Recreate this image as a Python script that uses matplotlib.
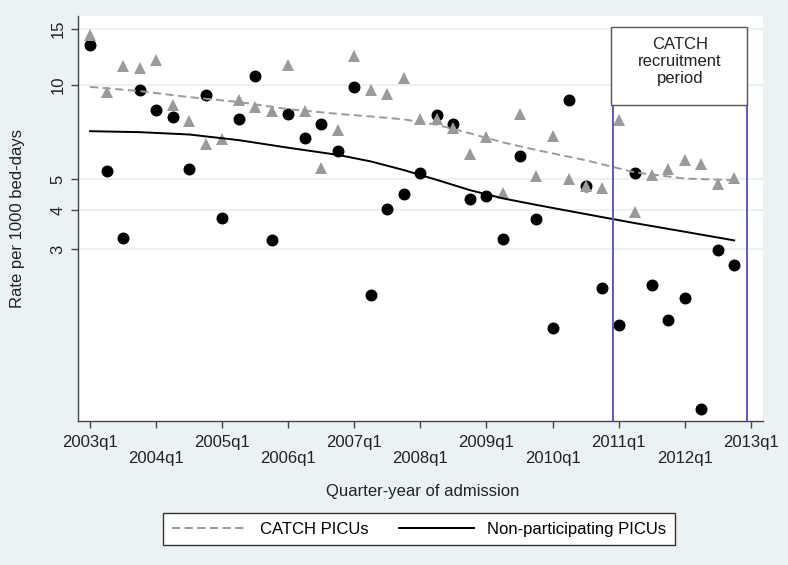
import numpy as np
import matplotlib.pyplot as plt
from matplotlib.patches import Rectangle
from matplotlib.lines import Line2D
from matplotlib.ticker import NullLocator, NullFormatter

plt.rcParams['font.family'] = ['Liberation Sans', 'DejaVu Sans']

# quarter index: 0 = 2003q1 ... 39 = 2012q4
quarters = np.arange(40)

non_participating = [13.35, 5.32, 3.25, 9.63, 8.31, 7.86, 5.39, 9.26, 3.77, 7.77,
                     10.61, 3.20, 8.04, 6.77, 7.47, 6.13, 9.81, 2.14, 4.02, 4.50,
                     5.22, 7.98, 7.50, 4.34, 4.43, 3.24, 5.92, 3.74, 1.69, 8.90,
                     4.78, 2.26, 1.73, 5.22, 2.31, 1.79, 2.10, 0.93, 2.99, 2.68]

catch_picus = [14.33, 9.46, 11.44, 11.25, 11.93, 8.62, 7.64, 6.47, 6.72, 8.92,
               8.48, 8.22, 11.53, 8.23, 5.42, 7.18, 12.31, 9.60, 9.35, 10.50,
               7.75, 7.75, 7.30, 6.03, 6.82, 4.53, 8.04, 5.11, 6.86, 5.01,
               4.78, 4.69, 7.71, 3.93, 5.16, 5.38, 5.74, 5.58, 4.82, 5.05]

# smoothed trends
fit_quarters = [0, 3, 6, 9, 12, 15, 17, 19, 21, 23, 25, 27, 30, 33, 36, 39]
catch_fit = [9.83, 9.53, 9.12, 8.80, 8.35, 8.07, 7.92, 7.75, 7.45, 7.00, 6.55, 6.20, 5.75, 5.26, 5.03, 4.97]
non_fit = [7.11, 7.06, 6.94, 6.66, 6.30, 5.98, 5.70, 5.35, 4.98, 4.62, 4.35, 4.15, 3.88, 3.63, 3.41, 3.20]

tick_quarters = list(range(0, 41, 4))
tick_labels = [f"{2003 + k}q1" for k in range(11)]
y_ticks = [3, 4, 5, 10, 15]

recruit_start = 31.65
recruit_end = 39.75

bg = '#EAF2F3'
grey = '#9A9A9A'
fs = 12

fig = plt.figure(figsize=(7.88, 5.65), dpi=100, facecolor=bg)
ax = fig.add_axes([78 / 788, 1 - 421 / 565, (763 - 78) / 788, (421 - 16) / 565])
ax.set_facecolor('white')

ax.plot(quarters, non_participating, 'o', color='black', markersize=7.6, zorder=3)
ax.plot(quarters, catch_picus, '^', color=grey, markersize=8.8, markeredgewidth=0, zorder=4)
ax.plot(fit_quarters, catch_fit, color=grey, lw=1.4, dashes=(4.2, 2.3), zorder=5)
ax.plot(fit_quarters, non_fit, color='black', lw=1.4, zorder=5)

ax.set_yscale('log')
ax.set_ylim(0.855, 16.5)
ax.set_xlim(-0.73, 40.74)

ax.set_yticks(y_ticks)
ax.set_yticklabels([str(v) for v in y_ticks])
ax.yaxis.set_minor_locator(NullLocator())
ax.yaxis.set_minor_formatter(NullFormatter())
ax.set_xticks(tick_quarters)
ax.set_xticklabels(tick_labels)

ax.grid(axis='y', color=bg, lw=1.5, zorder=0)
ax.set_axisbelow(True)
for side in ['top', 'right']:
    ax.spines[side].set_visible(False)
for side in ['left', 'bottom']:
    ax.spines[side].set_color('#444444')
    ax.spines[side].set_linewidth(1.0)

ax.tick_params(axis='both', direction='out', length=5, width=1.0, color='#444444',
               labelsize=fs, labelcolor='#222222')
ax.tick_params(axis='y', labelrotation=90, pad=4)
for lab in ax.get_yticklabels():
    lab.set_va('center')
for k, tick in enumerate(ax.xaxis.get_major_ticks()):
    tick.set_pad(5 if k % 2 == 0 else 16.5)

# recruitment period
xt = ax.get_xaxis_transform()
box_bottom = (421 - 105.3) / 405
box_top = (421 - 27.3) / 405
for xv in [recruit_start, recruit_end]:
    ax.axvline(xv, ymin=0, ymax=box_bottom, color='#5A5AC4', lw=1.4, zorder=6)
ax.add_patch(Rectangle((recruit_start - 0.1, box_bottom), recruit_end - recruit_start + 0.1,
                       box_top - box_bottom, transform=xt, facecolor='white',
                       edgecolor='#555555', lw=1.0, zorder=7, clip_on=False))
ax.text((recruit_start + recruit_end) / 2, (421 - 61.5) / 405, "CATCH\nrecruitment\nperiod",
        transform=xt, ha='center', va='center', fontsize=fs, linespacing=1.2,
        color='#222222', zorder=8)

fig.text(18 / 788, 1 - 218.5 / 565, "Rate per 1000 bed-days", rotation=90,
         ha='center', va='center', fontsize=fs, color='#222222')
fig.text(423 / 788, 1 - 491.7 / 565, "Quarter-year of admission",
         ha='center', va='center', fontsize=fs, color='#222222')

handles = [Line2D([], [], color=grey, lw=1.4, dashes=(4.2, 2.3)),
           Line2D([], [], color='black', lw=1.4)]
leg = fig.legend(handles, ["CATCH PICUs", "Non-participating PICUs"], ncol=2,
                 loc='center', bbox_to_anchor=(419 / 788, 1 - 529.3 / 565),
                 fontsize=fs, frameon=True, fancybox=False, edgecolor='#333333',
                 facecolor='white', framealpha=1, handlelength=4.5,
                 handletextpad=0.8, columnspacing=1.8, borderpad=0.5)
leg.get_frame().set_linewidth(1.0)

fig.savefig('out.png', dpi=100, facecolor=bg)
